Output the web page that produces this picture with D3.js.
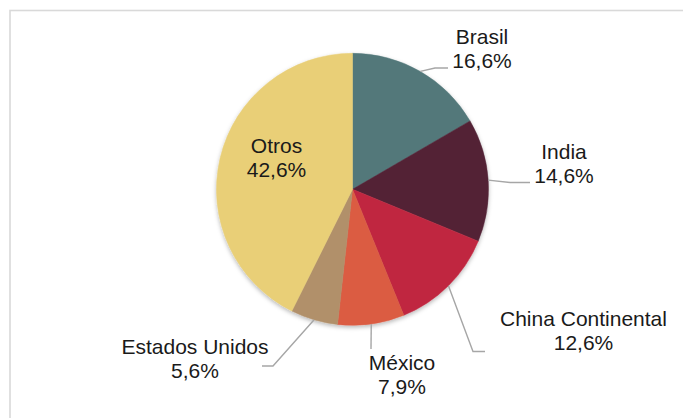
<!DOCTYPE html>
<html>
<head>
<meta charset="utf-8">
<script src="https://cdn.jsdelivr.net/npm/d3@7"></script>
<style>
  html, body { margin: 0; padding: 0; background: #fff; }
  svg { display: block; }
</style>
</head>
<body>
<div id="chart"></div>
<script>
// ---- data ----
const categories = ["Brasil", "India", "China Continental", "México", "Estados Unidos", "Otros"];
const values = [16.6, 14.6, 12.6, 7.9, 5.6, 42.6];
const valueLabels = ["16,6%", "14,6%", "12,6%", "7,9%", "5,6%", "42,6%"];
const colors = ["#52787A", "#532336", "#C02840", "#DB5B43", "#B1906A", "#E9CF77"];

// ---- layout (label centres/baselines and leader elbows) ----
const labelPos = [
  { x: 482, y: 44, leader: [[435, 68], [448, 68]] },
  { x: 564, y: 158.5, leader: [[510, 182.5], [530, 182.5]] },
  { x: 583.5, y: 326, leader: [[473, 351.5], [485, 351.5]] },
  { x: 402, y: 369.5, leader: [[371, 349]] },
  { x: 195, y: 353.5, leader: [[273, 366], [262, 366]] },
  { x: 276.5, y: 152.5, leader: null }
];

const W = 683, H = 418;
const cx = 352.5, cy = 189.3, R = 136;
const fontSize = 21, lineGap = 24;

const svg = d3.select("#chart").append("svg")
  .attr("width", W).attr("height", H);

// frame (only top and left edges visible)
svg.append("rect")
  .attr("x", 10).attr("y", 10.5)
  .attr("width", W + 20).attr("height", H + 20)
  .attr("fill", "none").attr("stroke", "#d9d9d9").attr("stroke-width", 1.6);

const defs = svg.append("defs");
const f = defs.append("filter").attr("id", "shadow")
  .attr("x", "-20%").attr("y", "-20%").attr("width", "140%").attr("height", "140%");
f.append("feDropShadow").attr("dx", 0).attr("dy", 2).attr("stdDeviation", 2.2)
  .attr("flood-color", "#000").attr("flood-opacity", 0.28);

const data = categories.map((c, i) => ({ name: c, value: values[i], label: valueLabels[i], color: colors[i], pos: labelPos[i] }));

const pie = d3.pie().sort(null).value(d => d.value);
const arcs = pie(data);
const arc = d3.arc().innerRadius(0).outerRadius(R);

const g = svg.append("g").attr("transform", `translate(${cx},${cy})`);
const slices = g.append("g").attr("filter", "url(#shadow)");
slices.selectAll("path").data(arcs).enter().append("path")
  .attr("d", arc)
  .attr("fill", d => d.data.color)
  .attr("stroke", d => d.data.color)
  .attr("stroke-width", 0.5);

// leader lines
const line = d3.line();
arcs.forEach(a => {
  const p = a.data.pos;
  if (!p.leader) return;
  const mid = (a.startAngle + a.endAngle) / 2;
  const start = [cx + R * Math.sin(mid), cy - R * Math.cos(mid)];
  svg.append("path")
    .attr("d", line([start, ...p.leader]))
    .attr("fill", "none")
    .attr("stroke", "#a6a6a6")
    .attr("stroke-width", 1.4);
});

// labels
arcs.forEach(a => {
  const p = a.data.pos;
  const t = svg.append("text")
    .attr("x", p.x).attr("y", p.y)
    .attr("text-anchor", "middle")
    .attr("font-family", "Liberation Sans, Arial, sans-serif")
    .attr("font-size", fontSize)
    .attr("fill", "#1a1a1a");
  t.append("tspan").attr("x", p.x).attr("y", p.y).text(a.data.name);
  t.append("tspan").attr("x", p.x).attr("y", p.y + lineGap).text(a.data.label);
});
</script>
</body>
</html>
